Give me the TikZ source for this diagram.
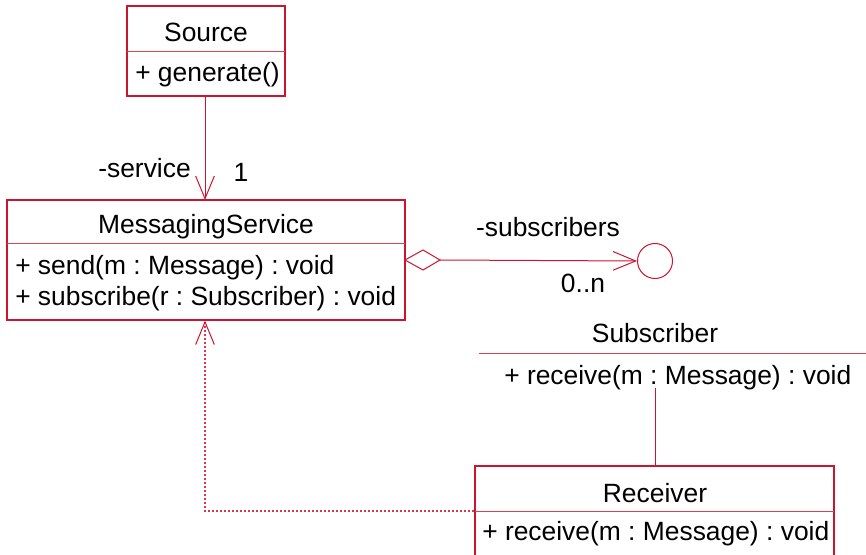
\documentclass[tikz,border=0pt]{standalone}
\usepackage{fontspec}
\setmainfont{Liberation Sans}
\usetikzlibrary{fit,arrows.meta}
\definecolor{umlred}{RGB}{204,20,48}
\frenchspacing
\tikzset{
  box/.style={draw=umlred, line width=0.9pt, inner sep=0pt, rectangle},
  divider/.style={draw=umlred!80, line width=0.7pt},
  txt/.style={inner sep=0pt, font=\fontsize{19.8}{24}\selectfont, text=black, anchor=base},
  ltxt/.style={txt, anchor=base west},
  conn/.style={draw=umlred, line width=0.75pt},
  openhead/.style={-{Straight Barb[length=17pt,width=14pt,line width=0.75pt]}},
  dotline/.style={draw=umlred!85, line width=1pt, dash pattern=on 1.5pt off 1.5pt},
}
\begin{document}
\begin{tikzpicture}[x=0.75pt,y=-0.75pt]
\useasboundingbox (0,0) rectangle (866,555);
% Source
\node[box, fit={(127,6) (285,96)}] (src) {};
\draw[divider] (127,51) -- (285,51);
\node[txt] (srct) at (206,42) {Source};
\node[ltxt] (srco) at (135,82) {+ generate()};
% MessagingService
\node[box, fit={(7,200) (405,320)}] (ms) {};
\draw[divider] (7,243) -- (405,243);
\node[txt] (mst) at (206,233.5) {MessagingService};
\node[ltxt] (mso1) at (15,275) {+ send(m : Message) : void};
\node[ltxt] (mso2) at (15,306) {+ subscribe(r : Subscriber) : void};
% Source -> MessagingService
\coordinate (s1) at (205,96);
\coordinate (s2) at (205,200);
\draw[conn, openhead] (s1) -- (s2);
\node[txt, anchor=base east] (lserv) at (191,178) {-service};
\node[txt] (lone) at (241,182) {1};
% interface circle
\node[draw=umlred, line width=0.75pt, circle, minimum size=35*0.75pt, inner sep=0pt] (iface) at (655,261) {};
\coordinate (d0) at (405,260);
\draw[conn, fill=white] (d0) -- (423,250) -- (440,260) -- (423,270) -- cycle;
\coordinate (d1) at (440,260);
\draw[conn, openhead] (d1) -- (iface.west);
\node[txt] (lsub) at (548,237) {-subscribers};
\node[txt] (lmul) at (583,293) {0..n};
% Subscriber
\node[txt] (subt) at (655,343) {Subscriber};
\draw[divider] (479,353) -- (866,353);
\node[ltxt] (subo) at (504,384) {+ receive(m : Message) : void};
% Receiver
\node[box, fit={(475,466) (834,558)}] (rcv) {};
\draw[divider] (475,511) -- (834,511);
\node[txt] (rcvt) at (655,502) {Receiver};
\node[ltxt] (rcvo) at (482,540) {+ receive(m : Message) : void};
% Receiver -- Subscriber
\coordinate (r0) at (655,388);
\draw[conn] (r0) -- (rcv.north -| r0);
% Receiver ..> MessagingService
\coordinate (c1) at (205,511);
\draw[dotline] (rcv.west |- c1) -- (c1) -- (ms.south -| c1);
\draw[conn, openhead] ([yshift=-1pt]ms.south -| c1) -- (ms.south -| c1);
\end{tikzpicture}
\end{document}
